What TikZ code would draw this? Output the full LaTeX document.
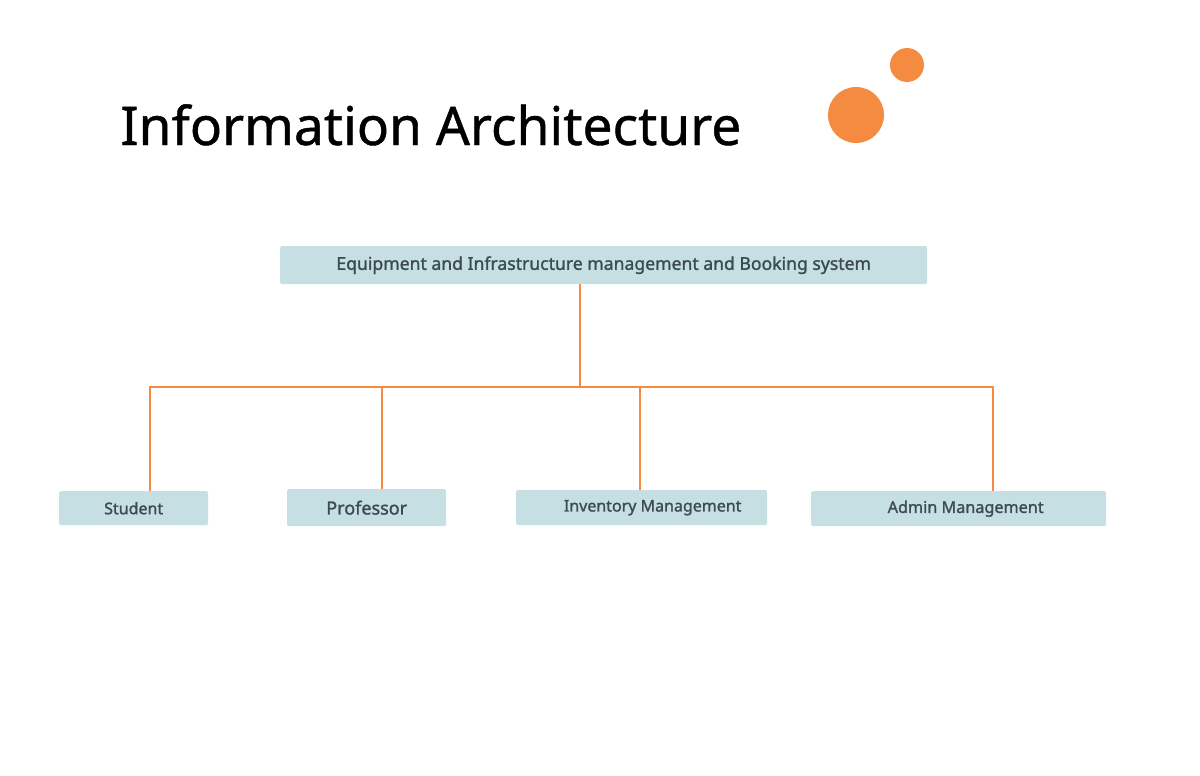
\documentclass[tikz,border=0pt]{standalone}
\usepackage{fontspec}
\setmainfont{Noto Sans}
\newfontfamily\boxfont[FakeBold=1.4]{Noto Sans}
\newfontfamily\titlefont[FakeBold=0.8]{Noto Sans}
\usepackage{xcolor}
\usetikzlibrary{positioning, calc}

\definecolor{dotorange}{HTML}{F58B40}
\definecolor{boxfill}{HTML}{C5DFE3}
\definecolor{boxtext}{HTML}{3D4A55}

\begin{document}
\begin{tikzpicture}[x=1pt, y=-1pt,
  topic/.style={fill=boxfill, rounded corners=1.5pt, inner sep=0pt,
                text=boxtext, anchor=north west},
  link/.style={draw=dotorange, line width=1.6pt}]
  \useasboundingbox (0,0) rectangle (1200,776);

  \node[anchor=base west, font=\titlefont\fontsize{53.3}{64}\selectfont] (title) at (117,145)
    {Information Architecture};
  \fill[dotorange] (856,115) circle (28);
  \fill[dotorange] (907,65) circle (17);

  \node[topic, minimum width=647pt, minimum height=38pt,
        font=\boxfont\fontsize{17.6}{22}\selectfont] (root) at (280,246)
    {\raisebox{-1.5pt}{Equipment and Infrastructure management and Booking system}};
  \node[topic, minimum width=149pt, minimum height=34pt,
        font=\boxfont\fontsize{16}{20}\selectfont] (student) at (59,491) {Student};
  \node[topic, minimum width=159pt, minimum height=37pt,
        font=\boxfont\fontsize{18}{20}\selectfont] (prof) at (287,489) {Professor};
  \node[topic, minimum width=251pt, minimum height=35pt,
        font=\boxfont\fontsize{16}{20}\selectfont] (inv) at (516,490)
    {\hspace*{22pt}\raisebox{-1pt}{Inventory Management}};
  \node[topic, minimum width=295pt, minimum height=35pt,
        font=\boxfont\fontsize{16.2}{20}\selectfont] (admin) at (811,491)
    {\hspace*{14pt}Admin Management};

  \coordinate (bus) at (580,387);
  \draw[link] (root.south -| bus) -- (bus);
  \draw[link] (bus) -| ([xshift=16.5pt]student.north);
  \draw[link] (bus) -| ([xshift=15pt]prof.north);
  \draw[link] (bus) -| ([xshift=-1.5pt]inv.north);
  \draw[link] (bus) -| ([xshift=34.5pt]admin.north);
\end{tikzpicture}
\end{document}
